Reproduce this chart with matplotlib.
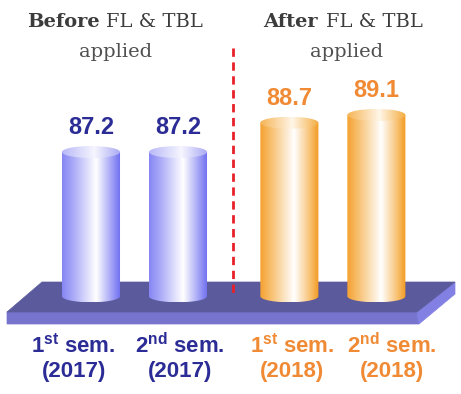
import numpy as np
import matplotlib.pyplot as plt
from matplotlib.colors import LinearSegmentedColormap
from matplotlib.patches import Ellipse, Polygon
from matplotlib.path import Path
from matplotlib.patches import PathPatch

plt.rcParams['mathtext.fontset'] = 'custom'
plt.rcParams['mathtext.rm'] = 'Liberation Sans:bold'
plt.rcParams['mathtext.bf'] = 'Liberation Sans:bold'

# data
ordinals = ["1", "2", "1", "2"]
suffixes = ["st", "nd", "st", "nd"]
years = ["2017", "2017", "2018", "2018"]
scores = [87.2, 87.2, 88.7, 89.1]
is_after = [False, False, True, True]
headers = ["Before", "After"]

W, H = 461, 394
fig = plt.figure(figsize=(W / 100, H / 100), dpi=100)
ax = fig.add_axes([0, 0, 1, 1])
ax.axis("off")

# layout: px -> data
px_per_x = 87.0
px_per_y = 19.5
x_pos = np.array([0, 1, 2.28, 3.28])
label_x = np.array([-0.2, 1.02, 2.31, 3.46])
base = 79.8
xmin, xmax = -91 / px_per_x, (W - 91) / px_per_x
ymax = 87.2 + 152 / px_per_y
ymin = 87.2 - (H - 152) / px_per_y


def py(p):  # pixel row -> axes fraction
    return 1 - p / H


def pxf(p):
    return p / W


# platform (decoration, axes fraction)
top_face = [(42, 282), (455, 282), (417, 312), (7, 312)]
front_face = [(7, 312), (417, 312), (419, 324), (7, 324)]
side_face = [(417, 312), (455, 282), (455, 294), (419, 324)]
for pts, col in [(front_face, "#7674cc"), (side_face, "#8280e2"), (top_face, "#5b5a9c")]:
    ax.add_patch(Polygon([(pxf(a), py(b)) for a, b in pts], closed=True,
                         transform=ax.transAxes, facecolor=col, edgecolor=col, lw=0.5, zorder=1))

blue_body = LinearSegmentedColormap.from_list("bb", [(0, "#8686f4"), (0.2, "#acacf8"), (0.58, "#ffffff"), (0.85, "#a0a0f6"), (1, "#6c6cf0")])
blue_top = LinearSegmentedColormap.from_list("bt", [(0, "#b8b8f8"), (0.55, "#f6f6ff"), (1, "#a8a8f4")])
orng_body = LinearSegmentedColormap.from_list("ob", [(0, "#f4a030"), (0.2, "#f8c274"), (0.58, "#ffffff"), (0.85, "#f8c274"), (1, "#f39a20")])
orng_top = LinearSegmentedColormap.from_list("ot", [(0, "#f6b454"), (0.55, "#fff6e8"), (1, "#f4ac40")])

grad = np.linspace(0, 1, 256).reshape(1, -1)
bw = 0.667
eh = 12 / px_per_y

for x, v, after in zip(x_pos, scores, is_after):
    x0, x1 = x - bw / 2, x + bw / 2
    t = np.linspace(np.pi, 2 * np.pi, 60)
    verts = [(x0, v), (x0, base)] + list(zip(x + bw / 2 * np.cos(t), base + eh / 2 * np.sin(t))) + [(x1, v), (x0, v)]
    body_path = PathPatch(Path(verts), transform=ax.transData, facecolor="none", edgecolor="none")
    ax.add_patch(body_path)
    im = ax.imshow(grad, cmap=orng_body if after else blue_body, extent=(x0, x1, base - eh / 2, v),
                   aspect="auto", zorder=2, interpolation="bilinear")
    im.set_clip_path(body_path)
    ell = Ellipse((x, v), bw, eh, transform=ax.transData, facecolor="none", edgecolor="none")
    ax.add_patch(ell)
    im2 = ax.imshow(grad, cmap=orng_top if after else blue_top, extent=(x0, x1, v - eh / 2, v + eh / 2),
                    aspect="auto", zorder=3, interpolation="bilinear")
    im2.set_clip_path(ell)
    ax.text(x, v + eh / 2 + 7 / px_per_y, f"{v:.1f}", ha="center", va="bottom",
            fontsize=17, fontweight="bold", family="Liberation Sans",
            color="#f08a34" if after else "#2c2c96", zorder=4)

# labels under platform
for lx, o, s, yr, after in zip(label_x, ordinals, suffixes, years, is_after):
    col = "#f08a34" if after else "#2c2c96"
    ax.text(lx, 87.2 - (346 - 152) / px_per_y, f"{o}$^{{\\rm {s}}}$ sem.", ha="center", va="center",
            fontsize=16, fontweight="bold", family="Liberation Sans", color=col)
    ax.text(lx, 87.2 - (372 - 152) / px_per_y, f"({yr})", ha="center", va="center",
            fontsize=16, fontweight="bold", family="Liberation Sans", color=col)

# dashed divider
div_x = (233 - 91) / px_per_x
ax.plot([div_x, div_x], [87.2 - (48 - 152) / px_per_y, 87.2 - (297 - 152) / px_per_y],
        color="#e8202a", lw=2, dashes=(3, 2), zorder=2.5)

# headers
for hx_right, hx_left, cx, word in [(100, 106, 116, headers[0]), (318, 326, 347, headers[1])]:
    fig.text(pxf(hx_right), py(22), word, ha="right", va="center", fontsize=14,
             fontweight="bold", family="DejaVu Serif", color="#3c3c3c")
    fig.text(pxf(hx_left), py(22), "FL & TBL", ha="left", va="center", fontsize=14,
             family="DejaVu Serif", color="#3c3c3c")
    fig.text(pxf(cx), py(52), "applied", ha="center", va="center", fontsize=14,
             family="DejaVu Serif", color="#505050")

ax.set_xlim(xmin, xmax)
ax.set_ylim(ymin, ymax)
fig.savefig("out.png", dpi=100)
